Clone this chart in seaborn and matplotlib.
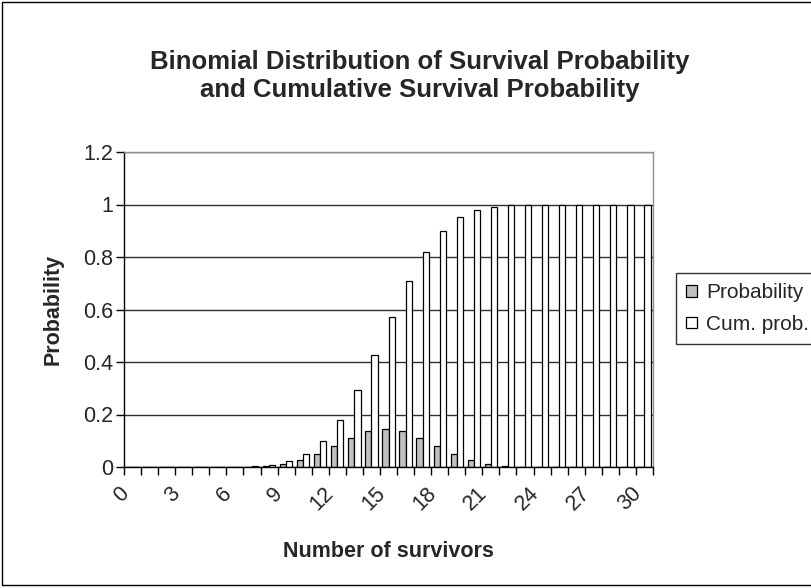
import pandas as pd
import seaborn as sns
import matplotlib.pyplot as plt
import matplotlib.transforms as mtransforms
from matplotlib.patches import Rectangle


survivors = list(range(31))
probability = [0.0, 0.0, 0.0, 0.0, 0.0, 0.0001, 0.0006, 0.0019, 0.0055, 0.0133,
               0.0280, 0.0509, 0.0806, 0.1115, 0.1354, 0.1445, 0.1354, 0.1115, 0.0806, 0.0509,
               0.0280, 0.0133, 0.0055, 0.0019, 0.0006, 0.0001, 0.0, 0.0, 0.0, 0.0, 0.0]
cum_prob = [0.0, 0.0, 0.0, 0.0, 0.0, 0.0002, 0.0007, 0.0026, 0.0081, 0.0214,
            0.0494, 0.1002, 0.1808, 0.2923, 0.4278, 0.5722, 0.7077, 0.8192, 0.8998, 0.9506,
            0.9786, 0.9919, 0.9974, 0.9993, 0.9998, 1.0, 1.0, 1.0, 1.0, 1.0, 1.0]
series_names = ['Probability', 'Cum. prob.']
y_ticks = [0, 0.2, 0.4, 0.6, 0.8, 1.0, 1.2]
y_tick_labels = ['0', '0.2', '0.4', '0.6', '0.8', '1', '1.2']

df = pd.DataFrame({
    'survivors': [str(s) for s in survivors] * 2,
    'value': probability + cum_prob,
    'series': [series_names[0]] * len(survivors) + [series_names[1]] * len(survivors),
})

sns.set_style("white")
plt.rcParams['font.family'] = ['Liberation Sans', 'DejaVu Sans']

fig = plt.figure(figsize=(8.11, 5.88), dpi=100)
# plot area: x 124..653, y 152..467 (pixels)
ax = fig.add_axes([124 / 811, 1 - 467 / 588, 529 / 811, 315 / 588])

sns.barplot(data=df, x='survivors', y='value', hue='series',
            order=[str(s) for s in survivors], hue_order=series_names,
            palette=['#c0c0c0', 'white'], edgecolor='black', linewidth=0.9,
            width=0.72, ax=ax)

ax.set_xlim(-0.5, len(survivors) - 0.5)
ax.set_ylim(0, 1.2)
ax.set_yticks(y_ticks)
ax.set_yticklabels(y_tick_labels, fontsize=15.5)
ax.yaxis.grid(True, color='#303030', linewidth=1)
ax.set_axisbelow(True)
ax.tick_params(axis='y', length=6, width=1, color='black', left=True, pad=2)

ax.set_xticks([s for s in survivors if s % 3 == 0])
ax.set_xticklabels([str(s) for s in survivors if s % 3 == 0], rotation=45,
                   ha='right', rotation_mode='anchor', fontsize=15.5)
ax.tick_params(axis='x', which='major', length=0, pad=10)
ax.set_xticks([s - 0.5 for s in survivors] + [survivors[-1] + 0.5], minor=True)
ax.tick_params(axis='x', which='minor', length=6, width=1, color='black', bottom=True)

# shift rotated labels like the Excel layout
shift = mtransforms.ScaledTranslation(-0.14, -0.02, fig.dpi_scale_trans)
for lab in ax.get_xticklabels():
    lab.set_transform(lab.get_transform() + shift)

for side in ['top', 'right']:
    ax.spines[side].set_color('#909090')
    ax.spines[side].set_linewidth(1)
for side in ['left', 'bottom']:
    ax.spines[side].set_color('black')
    ax.spines[side].set_linewidth(1)

ax.set_xlabel('Number of survivors', fontsize=15.5, fontweight='bold', labelpad=19)
ax.set_ylabel('Probability', fontsize=15.5, fontweight='bold', labelpad=14)

fig.text(420 / 811, 1 - 76 / 588,
         'Binomial Distribution of Survival Probability\nand Cumulative Survival Probability',
         ha='center', va='center', fontsize=18.5, fontweight='bold', linespacing=1.2)

leg = ax.legend(bbox_to_anchor=(676 / 811, 1 - 273 / 588), bbox_transform=fig.transFigure,
                loc='upper left', borderaxespad=0, frameon=True, fancybox=False,
                fontsize=15, handlelength=0.5, handleheight=0.5, handletextpad=0.45,
                labelspacing=0.6, borderpad=0.5, title=None)
leg.get_frame().set_edgecolor('black')
leg.get_frame().set_linewidth(1)

fig.patches.append(Rectangle((2 / 811, 3 / 588), 1.1, 583 / 588, transform=fig.transFigure,
                             fill=False, edgecolor='black', linewidth=1))

plt.savefig('out.png', dpi=100)
plt.close()
